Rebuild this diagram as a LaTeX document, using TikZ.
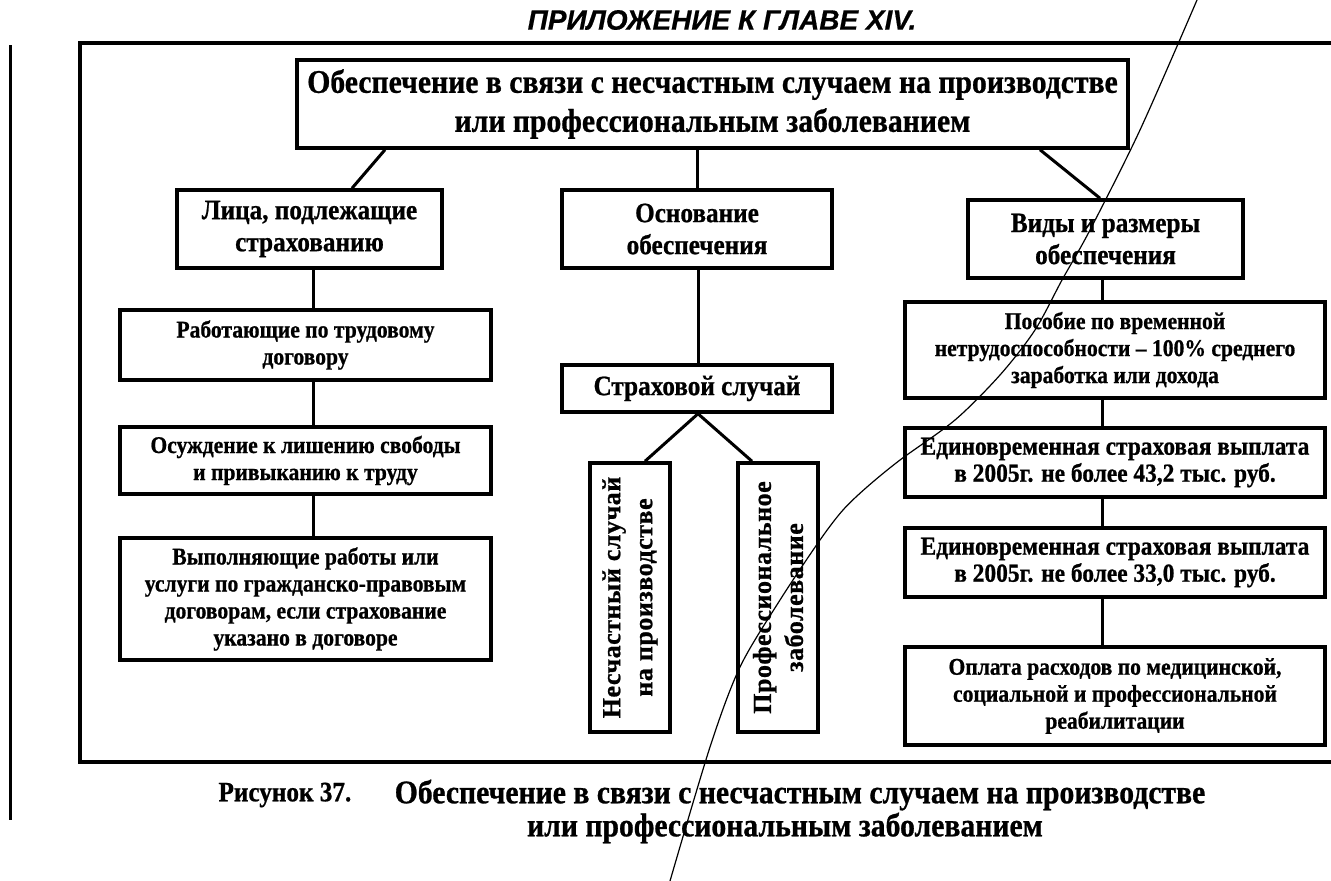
\documentclass[tikz,border=0pt]{standalone}
\usepackage{fontspec}
\setmainfont{Liberation Serif}
\newfontfamily\cnd[FakeStretch=0.9, FakeBold=0.8]{Liberation Serif}
\newfontfamily\spc[LetterSpace=2, FakeBold=0.8]{Liberation Serif}
\newfontfamily\ttl[FakeBold=0.5]{Liberation Sans}
\usetikzlibrary{calc}
\begin{document}
\begin{tikzpicture}[x=1pt,y=-1pt,
  box/.style={draw, line width=3.5pt, inner sep=0pt, align=center},
  big/.style={font=\cnd\bfseries\fontsize{33}{39}\selectfont},
  mid/.style={font=\cnd\bfseries\fontsize{28}{32}\selectfont},
  sml/.style={font=\cnd\bfseries\fontsize{24}{27}\selectfont},
  smb/.style={font=\cnd\bfseries\fontsize{26}{27}\selectfont},
  vert/.style={font=\spc\bfseries\fontsize{26}{32}\selectfont, rotate=90, align=center, inner sep=0pt},
  conn/.style={line width=3pt}]
\useasboundingbox (0,0) rectangle (1331,881);
% page edge and outer frame
\draw[line width=3pt] (10,45) -- (10,820);
\draw[line width=4pt] (1345,43) -- (80,43) -- (80,762) -- (1345,762);
% title
\node[font=\ttl\bfseries\itshape\fontsize{28}{32}\selectfont] (title) at (722,20) {ПРИЛОЖЕНИЕ К ГЛАВЕ XIV.};
% top box
\node[box, big, minimum width=831pt, minimum height=88pt] (top) at (712.5,104) {Обеспечение в связи с несчастным случаем на производстве\\или профессиональным заболеванием};
% second level
\node[box, mid, minimum width=265pt, minimum height=78pt] (lica) at (309.5,229) {Лица, подлежащие\\страхованию};
\node[box, mid, minimum width=270pt, minimum height=78pt] (osn) at (697,229) {Основание\\обеспечения};
\node[box, mid, minimum width=275pt, minimum height=78pt] (vidy) at (1105.5,239) {Виды и размеры\\обеспечения};
% left column
\node[box, sml, minimum width=371pt, minimum height=70pt] (rab) at (305.5,345) {Работающие по трудовому\\договору};
\node[box, sml, minimum width=371pt, minimum height=67pt] (osu) at (305.5,460.5) {Осуждение к лишению свободы\\и привыканию к труду};
\node[box, sml, minimum width=371pt, minimum height=122pt] (vyp) at (305.5,599) {Выполняющие работы или\\услуги по гражданско-правовым\\договорам, если страхование\\указано в договоре};
% middle column
\node[box, mid, minimum width=270pt, minimum height=47pt] (str) at (697,388.5) {Страховой случай};
\node[box, minimum width=80pt, minimum height=269pt] (nes) at (630,597.5) {};
\node[vert] (nestxt) at (nes.center) {Несчастный случай\\на производстве};
\node[box, minimum width=80pt, minimum height=269pt] (prof) at (778,597.5) {};
\node[vert] (proftxt) at (prof.center) {Профессиональное\\заболевание};
% right column
\node[box, sml, minimum width=420pt, minimum height=96pt] (pos) at (1115,350) {Пособие по временной\\нетрудоспособности – 100\% среднего\\заработка или дохода};
\node[box, smb, minimum width=420pt, minimum height=69pt] (ed1) at (1115,462.5) {Единовременная страховая выплата\\в 2005г. не более 43,2 тыс. руб.};
\node[box, smb, minimum width=420pt, minimum height=69pt] (ed2) at (1115,562.5) {Единовременная страховая выплата\\в 2005г. не более 33,0 тыс. руб.};
\node[box, sml, minimum width=420pt, minimum height=98pt] (opl) at (1115,696) {Оплата расходов по медицинской,\\социальной и профессиональной\\реабилитации};
% connectors
\draw[conn] ([xshift=-327.5pt]top.south) -- ([xshift=42.5pt]lica.north);
\draw[conn] (top.south -| osn.north) -- (osn.north);
\draw[conn] ([xshift=327.5pt]top.south) -- ([xshift=-5.5pt]vidy.north);
\draw[conn] ([xshift=3.5pt]lica.south) -- ([xshift=7.5pt]rab.north);
\draw[conn] ([xshift=7.5pt]rab.south) -- ([xshift=7.5pt]osu.north);
\draw[conn] ([xshift=7.5pt]osu.south) -- ([xshift=7.5pt]vyp.north);
\draw[conn] ([xshift=1pt]osn.south) -- ([xshift=1pt]str.north);
\draw[conn] ([xshift=1pt]str.south) -- ([xshift=15pt]nes.north);
\draw[conn] ([xshift=1pt]str.south) -- ([xshift=-26pt]prof.north);
\draw[conn] ([xshift=-3.5pt]vidy.south) -- ([xshift=-13pt]pos.north);
\draw[conn] ([xshift=-13pt]pos.south) -- ([xshift=-13pt]ed1.north);
\draw[conn] ([xshift=-13pt]ed1.south) -- ([xshift=-13pt]ed2.north);
\draw[conn] ([xshift=-13pt]ed2.south) -- ([xshift=-13pt]opl.north);
% caption
\node[font=\cnd\bfseries\fontsize{28}{33}\selectfont, anchor=west] (fig) at (215,795) {Рисунок 37.};
\node[big] (cap1) at (800,795) {Обеспечение в связи с несчастным случаем на производстве};
\node[big] (cap2) at (785,828) {или профессиональным заболеванием};
% scan stroke
\draw[line width=1.2pt] plot[smooth, tension=0.5] coordinates {(1197,0) (1140,130) (1090,230) (1062,280) (1035,330) (1000,375) (955,420) (900,460) (867,487) (843,510) (820,540) (780,600) (740,667) (710,747) (670,881)};
\end{tikzpicture}
\end{document}
